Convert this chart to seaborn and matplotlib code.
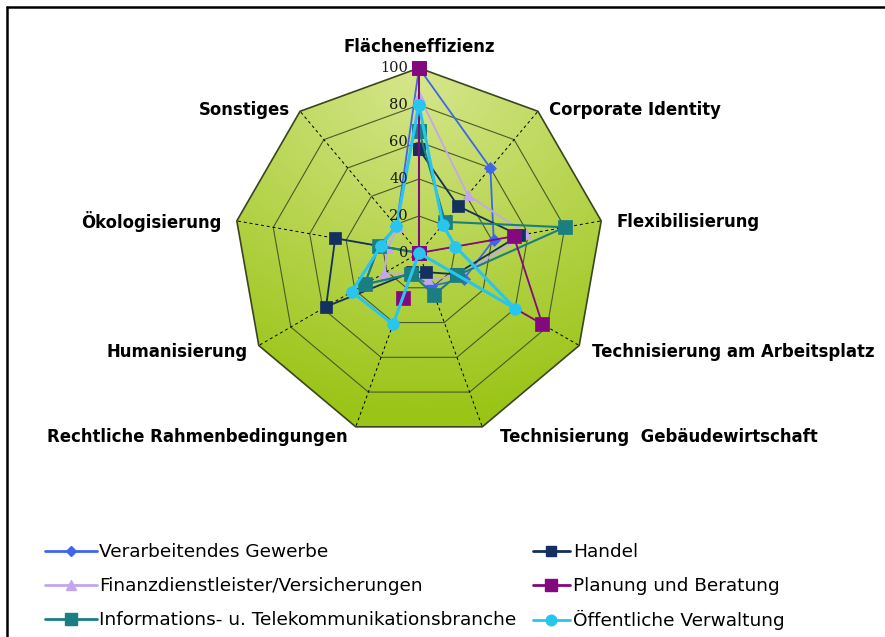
import numpy as np
import pandas as pd
import matplotlib
matplotlib.use("Agg")
import matplotlib.pyplot as plt
import seaborn as sns
from matplotlib.patches import Polygon
from matplotlib.lines import Line2D
from matplotlib.colors import to_rgb

# ---- data ----
categories = ['Flächeneffizienz', 'Corporate Identity', 'Flexibilisierung',
              'Technisierung am Arbeitsplatz', 'Technisierung  Gebäudewirtschaft',
              'Rechtliche Rahmenbedingungen', 'Humanisierung', 'Ökologisierung',
              'Sonstiges']
series_names = ['Verarbeitendes Gewerbe', 'Handel',
                'Finanzdienstleister/Versicherungen', 'Planung und Beratung',
                'Informations- u. Telekommunikationsbranche', 'Öffentliche Verwaltung']
verarbeitendes = [100, 60, 41, 28, 19, 12, 34, 22, 19]
handel = [56, 33, 55, 23, 11, 11, 58, 46, 0]
finanz = [85, 41, 59, 25, 15, 12, 22, 17, 18]
planung = [100, 0, 52, 77, 0, 26, 0, 0, 0]
informations = [66, 22, 80, 24, 24, 12, 34, 22, 0]
oeffentlich = [80, 20, 20, 60, 0, 41, 42, 21, 19]
tick_values = [0, 20, 40, 60, 80, 100]

values = dict(zip(series_names, [verarbeitendes, handel, finanz, planung,
                                 informations, oeffentlich]))

colors = {
    'Verarbeitendes Gewerbe': '#3f66ea',
    'Handel': '#13305f',
    'Finanzdienstleister/Versicherungen': '#c4a6ee',
    'Planung und Beratung': '#84087e',
    'Informations- u. Telekommunikationsbranche': '#1b7e80',
    'Öffentliche Verwaltung': '#28c6ee',
}
markers = {
    'Verarbeitendes Gewerbe': ('D', 6, 1.3),
    'Handel': ('s', 8.5, 1.3),
    'Finanzdienstleister/Versicherungen': ('^', 7.5, 1.3),
    'Planung und Beratung': ('s', 9.5, 1.3),
    'Informations- u. Telekommunikationsbranche': ('s', 9.5, 1.5),
    'Öffentliche Verwaltung': ('o', 8.5, 2.2),
}
draw_order = ['Verarbeitendes Gewerbe', 'Finanzdienstleister/Versicherungen', 'Handel',
              'Informations- u. Telekommunikationsbranche', 'Planung und Beratung',
              'Öffentliche Verwaltung']

n = len(categories)
theta = np.deg2rad(np.arange(n) * 360.0 / n)  # clockwise from top

rows = []
for name in series_names:
    v = values[name]
    for k in list(range(n)) + [0]:
        rows.append({'Branche': name, 'step': len(rows),
                     'x': v[k] * np.sin(theta[k]), 'y': v[k] * np.cos(theta[k])})
df = pd.DataFrame(rows)

sns.set_theme(style='white')
plt.rcParams['font.family'] = ['DejaVu Sans']
plt.rcParams['text.color'] = 'black'

fig = plt.figure(figsize=(8.85, 6.37), dpi=100)
# centre of the web at (419, 253) px, 100 -> 185 px
L = 120
ax = fig.add_axes([197 / 885, 162 / 637, 444 / 885, 444 / 637])
ax.set_xlim(-L, L)
ax.set_ylim(-L, L)
ax.set_aspect('equal')
ax.set_axis_off()

# gradient background clipped to the nonagon
outer = np.column_stack([100 * np.sin(theta), 100 * np.cos(theta)])
gx, gy = np.meshgrid(np.linspace(-105, 105, 300), np.linspace(-105, 105, 300))
t = np.clip(np.hypot(gx * 0.9, gy - 95) / 185, 0, 1)[..., None]
c_light = np.array(to_rgb('#d6e68c'))
c_dark = np.array(to_rgb('#9ac416'))
img = c_light * (1 - t) + c_dark * t
im = ax.imshow(img, extent=(-105, 105, -105, 105), origin='lower', zorder=0)
clip = Polygon(outer, closed=True, transform=ax.transData)
im.set_clip_path(clip)

# rings and spokes
for r in tick_values[1:]:
    ring = np.vstack([outer, outer[:1]]) * r / 100
    ax.plot(ring[:, 0], ring[:, 1], color='#4a5a28' if r < 100 else '#3a4520',
            lw=0.8 if r < 100 else 1.2, zorder=1)
for k in range(n):
    ax.plot([0, outer[k, 0]], [0, outer[k, 1]], color='black', lw=0.7,
            ls=(0, (3, 3)), zorder=1)

# series
handles = {}
for i, name in enumerate(draw_order):
    sub = df[df['Branche'] == name]
    m, ms, lw = markers[name]
    sns.lineplot(data=sub, x='x', y='y', sort=False, estimator=None, ax=ax,
                 color=colors[name], lw=lw, marker=m, markersize=ms,
                 markeredgecolor=colors[name], markeredgewidth=0.5,
                 zorder=3 + i, legend=False)
    handles[name] = Line2D([], [], color=colors[name], lw=2, marker=m,
                           markersize=ms * 0.9, markeredgecolor=colors[name])

# tick labels
for v in tick_values:
    ax.text(-6, v, str(v), ha='right', va='center', fontsize=10.5,
            family='DejaVu Serif', color='#1a1a1a', zorder=10)

# category labels (placed as in the reference)
label_pos = [(0, 111.5, 'center'), (70.3, 77.3, 'left'), (107, 16.8, 'left'),
             (93.5, -53.5, 'left'), (43.8, -99.5, 'left'), (-38.4, -99.5, 'right'),
             (-92.4, -53.5, 'right'), (-106.5, 16.8, 'right'), (-69.7, 77.3, 'right')]
for cat, (lx, ly, ha) in zip(categories, label_pos):
    ax.text(lx, ly, cat, ha=ha, va='center', fontsize=11.9, fontweight='bold',
            color='black', clip_on=False)

# legend: two columns, rows at fixed heights
left_col = ['Verarbeitendes Gewerbe', 'Finanzdienstleister/Versicherungen',
            'Informations- u. Telekommunikationsbranche']
right_col = ['Handel', 'Planung und Beratung', 'Öffentliche Verwaltung']
row_y = [552, 586, 620]
leg_kw = dict(loc='center left', frameon=False, fontsize=13.3, borderpad=0,
              borderaxespad=0, handletextpad=0.15, labelcolor='black')
for col, x0, hl in [(left_col, 45, 2.8), (right_col, 533, 2.0)]:
    for name, yy in zip(col, row_y):
        fig.legend([handles[name]], [name], bbox_to_anchor=(x0 / 885, 1 - yy / 637),
                   handlelength=hl, **leg_kw)

# frame (top and left edges visible)
fig.add_artist(Line2D([7 / 885, 7 / 885], [0, 1 - 7 / 637], color='black', lw=1.8))
fig.add_artist(Line2D([7 / 885, 1], [1 - 7 / 637, 1 - 7 / 637], color='black', lw=1.8))

fig.savefig('out.png', dpi=100)
